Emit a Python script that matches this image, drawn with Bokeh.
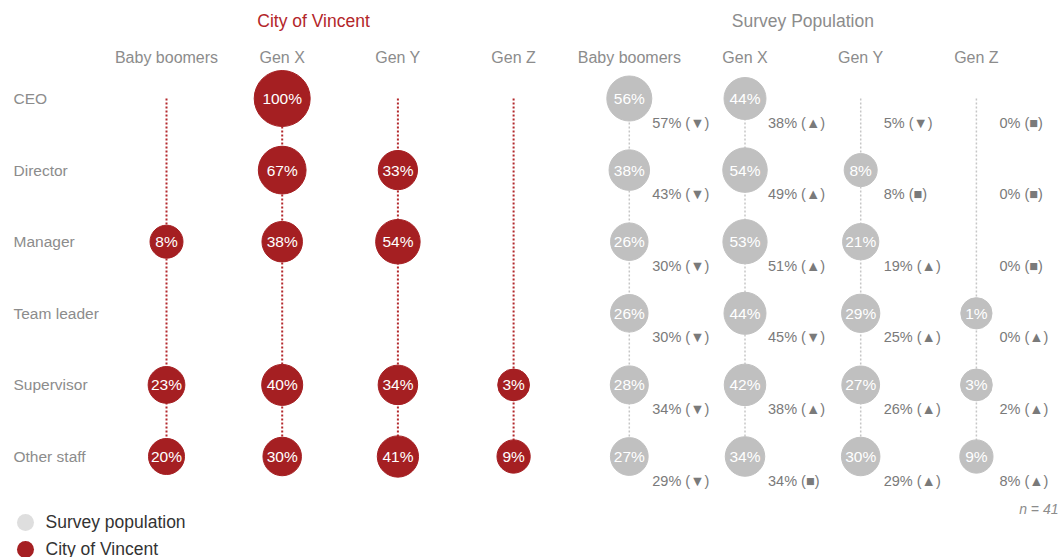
from bokeh.plotting import figure
from bokeh.models import Range1d, ColumnDataSource
from bokeh.embed import file_html
from bokeh.resources import INLINE
from bokeh.core.properties import value

# ---------------- data ----------------
roles = ["CEO", "Director", "Manager", "Team leader", "Supervisor", "Other staff"]
generations = ["Baby boomers", "Gen X", "Gen Y", "Gen Z"]

city_boomers = [None, None, 8, None, 23, 20]
city_genx = [100, 67, 38, None, 40, 30]
city_geny = [None, 33, 54, None, 34, 41]
city_genz = [None, None, None, None, 3, 9]

survey_boomers = [56, 38, 26, 26, 28, 27]
survey_genx = [44, 54, 53, 44, 42, 34]
survey_geny = [None, 8, 21, 29, 27, 30]
survey_genz = [None, None, None, 1, 3, 9]

compare_boomers = [57, 43, 30, 30, 34, 29]
compare_genx = [38, 49, 51, 45, 38, 34]
compare_geny = [5, 8, 19, 25, 26, 29]
compare_genz = [0, 0, 0, 0, 2, 8]

trend_boomers = ["▼", "▼", "▼", "▼", "▼", "▼"]
trend_genx = ["▲", "▲", "▲", "▼", "▲", "■"]
trend_geny = ["▼", "■", "▲", "▲", "▲", "▲"]
trend_genz = ["■", "■", "■", "▲", "▲", "▲"]

n_respondents = 41

city_vals = [city_boomers, city_genx, city_geny, city_genz]
survey_vals = [survey_boomers, survey_genx, survey_geny, survey_genz]
compare_vals = [compare_boomers, compare_genx, compare_geny, compare_genz]
trend_vals = [trend_boomers, trend_genx, trend_geny, trend_genz]

# ---------------- layout ----------------
W, H = 1061, 557
DX, DY = 115.7, 71.6          # pixels per column / row
COL0, ROW0 = 166, 98          # pixel of first column / row
xs = -COL0 / DX
ys = -ROW0 / DY

def px_x(px):
    return xs + px / DX

def px_y(py):
    return ys + py / DY

FONT = "Liberation Sans"
RED = "#a51f22"
RED_LINE = "#b3282c"
GREY_BUB = "#c0c0c0"
GREY_LINE = "#c6c6c6"
LABEL = "#8c8c8c"

p = figure(width=W, height=H, output_backend="svg", toolbar_location=None,
           x_axis_location=None, y_axis_location=None, min_border=0,
           x_range=Range1d(xs, xs + W / DX), y_range=Range1d(ys + H / DY, ys))
p.outline_line_color = None
p.xgrid.visible = False
p.ygrid.visible = False
p.background_fill_color = "white"
p.border_fill_color = "white"

def diam(v):
    return 31 + 0.25 * v

n_rows = len(roles)

# vertical dotted lines
for g in range(len(generations)):
    p.segment(x0=[g], y0=[0], x1=[g], y1=[n_rows - 1], line_color=RED_LINE,
              line_width=2, line_dash="2 2")
    p.segment(x0=[g + 4], y0=[0], x1=[g + 4], y1=[n_rows - 1], line_color=GREY_LINE,
              line_width=1.5, line_dash="2 2")

cx, cy, cs, ct = [], [], [], []
sx, sy, ss, st = [], [], [], []
ax, ay, at = [], [], []
for g in range(len(generations)):
    for r in range(n_rows):
        v = city_vals[g][r]
        if v is not None:
            cx.append(g); cy.append(r); cs.append(diam(v)); ct.append(f"{v}%")
        v = survey_vals[g][r]
        if v is not None:
            sx.append(g + 4); sy.append(r); ss.append(diam(v)); st.append(f"{v}%")
        ax.append(g + 4); ay.append(r)
        at.append(f"{compare_vals[g][r]}% ({trend_vals[g][r]})")

city_src = ColumnDataSource(dict(x=cx, y=cy, s=cs, t=ct))
surv_src = ColumnDataSource(dict(x=sx, y=sy, s=ss, t=st))
ann_src = ColumnDataSource(dict(x=ax, y=ay, t=at))

p.scatter("x", "y", size="s", source=city_src, fill_color=RED, line_color=RED)
p.text("x", "y", text="t", source=city_src, text_color="white",
       text_font=value(FONT), text_font_size="15.5px", text_align="center",
       text_baseline="middle")
p.scatter("x", "y", size="s", source=surv_src, fill_color=GREY_BUB, line_color=GREY_BUB)
p.text("x", "y", text="t", source=surv_src, text_color="white",
       text_font=value(FONT), text_font_size="15.5px", text_align="center",
       text_baseline="middle")
p.text("x", "y", text="t", source=ann_src, text_color="#7a7a7a",
       text_font=value(FONT), text_font_size="14.5px", text_align="left",
       text_baseline="middle", x_offset=23, y_offset=24)

# row labels
p.text(x=[px_x(13)] * n_rows, y=list(range(n_rows)), text=roles, text_color=LABEL,
       text_font=value(FONT), text_font_size="15.5px", text_align="left",
       text_baseline="middle")

# column headers
hx = list(range(8))
p.text(x=hx, y=[px_y(57)] * 8, text=generations * 2, text_color=LABEL,
       text_font=value(FONT), text_font_size="16px", text_align="center",
       text_baseline="middle")

# group titles
p.text(x=[px_x(313)], y=[px_y(20)], text=["City of Vincent"], text_color="#b3262a",
       text_font=value(FONT), text_font_size="17.5px", text_align="center",
       text_baseline="middle")
p.text(x=[5.5], y=[px_y(20)], text=["Survey Population"], text_color=LABEL,
       text_font=value(FONT), text_font_size="17.5px", text_align="center",
       text_baseline="middle")

# n label
p.text(x=[px_x(1058)], y=[px_y(508)], text=[f"n = {n_respondents}"], text_color="#8c8c8c",
       text_font=value(FONT), text_font_size="14px", text_font_style="italic",
       text_align="right", text_baseline="middle")

# legend
p.scatter(x=[px_x(25), px_x(25)], y=[px_y(522), px_y(549)], size=17,
          fill_color=["#dedede", RED], line_color=None)
p.text(x=[px_x(45), px_x(45)], y=[px_y(521), px_y(548)],
       text=["Survey population", "City of Vincent"], text_color="#333333",
       text_font=value(FONT), text_font_size="17.5px", text_align="left",
       text_baseline="middle")

open("out.html", "w").write(file_html(p, INLINE))
